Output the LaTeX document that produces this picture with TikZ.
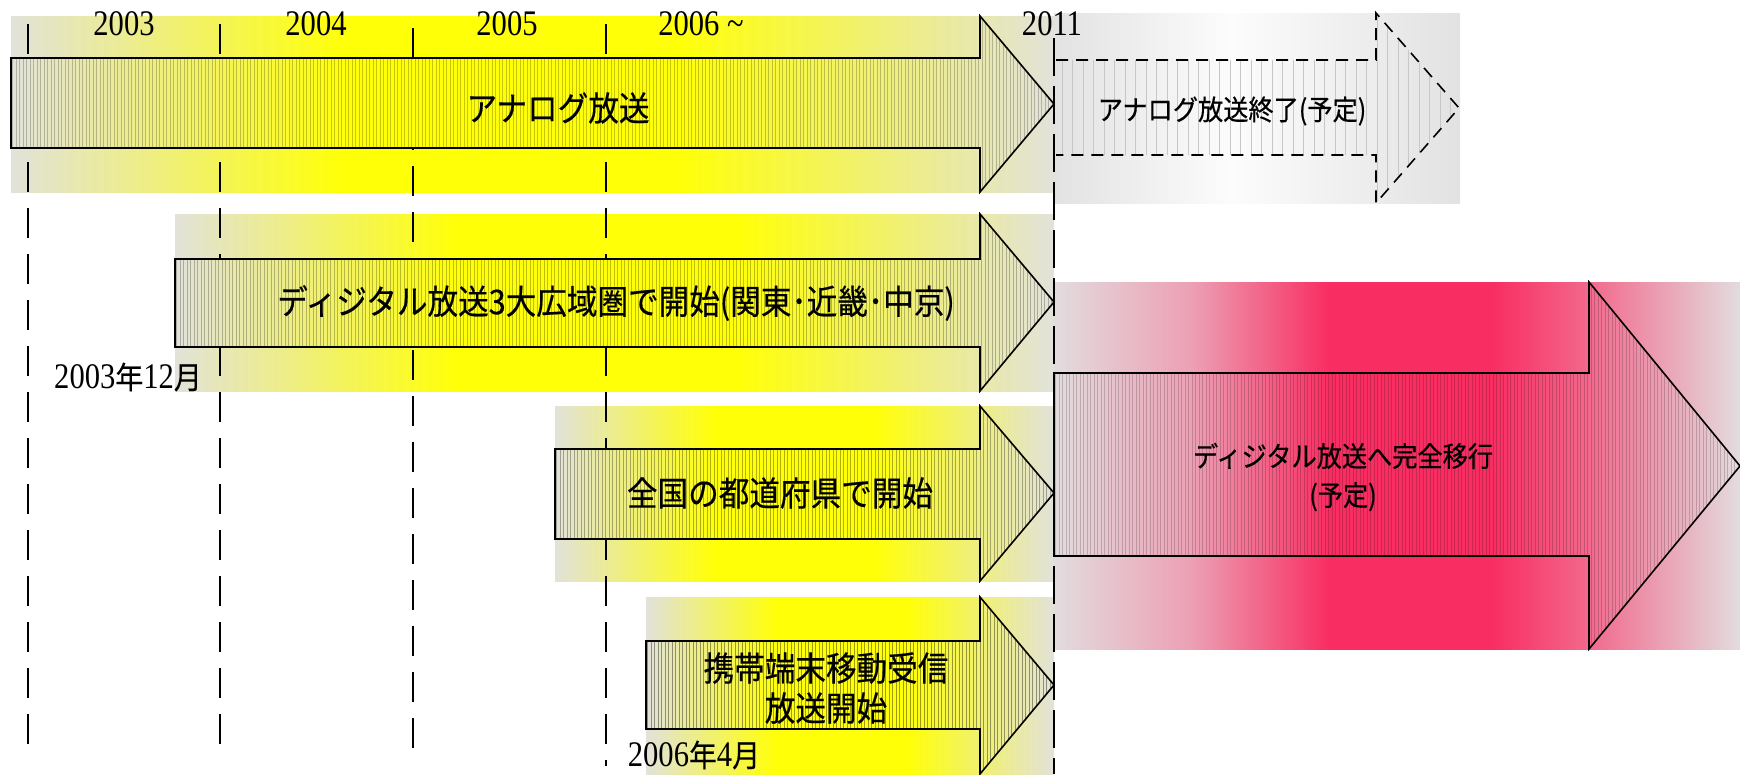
\documentclass[tikz,border=0pt]{standalone}
\usepackage{fontspec}
\setmainfont{Liberation Serif}
\newfontfamily\jp[FakeStretch=0.9,FakeBold=0.4]{Noto Sans CJK JP}
\newfontfamily\yrf[FakeStretch=0.85]{Liberation Serif}
\definecolor{bgg}{RGB}{226,226,218}
\definecolor{ylw}{RGB}{255,255,8}
\definecolor{redc}{RGB}{248,46,98}
\definecolor{rgray}{RGB}{226,220,222}
\definecolor{rmid}{RGB}{236,160,180}
\definecolor{rpink}{RGB}{242,105,140}
\definecolor{lg}{RGB}{226,226,226}
\definecolor{wh}{RGB}{252,252,252}
\pgfdeclarehorizontalshading{ysh}{100bp}{color(0bp)=(bgg); color(25bp)=(bgg); color(41bp)=(ylw); color(57bp)=(ylw); color(75bp)=(bgg); color(100bp)=(bgg)}
\pgfdeclarehorizontalshading{rsh}{100bp}{color(0bp)=(rgray); color(25bp)=(rgray); color(35bp)=(rmid); color(45bp)=(redc); color(57bp)=(redc); color(64bp)=(rpink); color(75bp)=(rgray); color(100bp)=(rgray)}
\pgfdeclarehorizontalshading{gsh}{100bp}{color(0bp)=(lg); color(25bp)=(lg); color(47bp)=(wh); color(75bp)=(lg); color(100bp)=(lg)}
% #1 shading, #2 stripe opacity, #3 left x, #4 number of stripes, #5 path
\newcommand\arw[5]{%
  \shade[shading=#1] #5;
  \begin{scope}
    \clip #5;
    \draw[line width=0.9pt,draw opacity=#2] \foreach \i in {0,...,#4} {(#3+1.5+3.5*\i,0) -- ++(0,800)};
  \end{scope}
  \draw[outl] #5;}
\begin{document}
\begin{tikzpicture}[x=1pt,y=-1pt,
  outl/.style={draw=black,line width=1.6pt,line join=miter},
  vdash/.style={draw=black,line width=1.7pt,dash pattern=on 30pt off 16pt},
  big/.style={font=\jp\fontsize{34}{40}\selectfont,inner sep=0pt,align=center},
  mid/.style={font=\jp\fontsize{28}{39}\selectfont,inner sep=0pt,align=center},
  yr/.style={font=\yrf\fontsize{36}{38}\selectfont,inner sep=0pt}]
\useasboundingbox (0,0) rectangle (1740,774);
% backgrounds
\shade[shading=ysh] (11,16) rectangle (1054,192);
\shade[shading=ysh] (175,214) rectangle (1054,391);
\shade[shading=ysh] (555,406) rectangle (1054,581);
\shade[shading=ysh] (646,597) rectangle (1054,774);
\shade[shading=rsh] (1054,282) rectangle (1740,649);
\shade[shading=gsh] (1054,13) rectangle (1460,203);
% year dashed lines
\coordinate (l1a) at (28,24);  \coordinate (l1b) at (28,756);
\coordinate (l2a) at (220,24); \coordinate (l2b) at (220,756);
\coordinate (l3a) at (413,28); \coordinate (l3b) at (413,756);
\coordinate (l4a) at (606,24); \coordinate (l4b) at (606,766);
\draw[vdash] (l1a) -- (l1b);
\draw[vdash] (l2a) -- (l2b);
\draw[vdash] (l3a) -- (l3b);
\draw[vdash] (l4a) -- (l4b);
% arrows
\arw{ysh}{0.22}{11}{298}{(11,58) -- (980,58) -- (980,16) -- (1054,104) -- (980,192) -- (980,148) -- (11,148) -- cycle}
\arw{ysh}{0.25}{175}{251}{(175,259) -- (980,259) -- (980,214) -- (1054,302) -- (980,391) -- (980,347) -- (175,347) -- cycle}
\arw{ysh}{0.3}{555}{143}{(555,449) -- (980,449) -- (980,406) -- (1054,493) -- (980,581) -- (980,539) -- (555,539) -- cycle}
\arw{ysh}{0.38}{646}{117}{(646,641) -- (980,641) -- (980,597) -- (1054,685) -- (980,774) -- (980,729) -- (646,729) -- cycle}
\arw{rsh}{0.18}{1054}{196}{(1054,373) -- (1589,373) -- (1589,282) -- (1740,466) -- (1589,649) -- (1589,556) -- (1054,556) -- cycle}
% dashed future arrow
\begin{scope}
\clip (1056,60) -- (1376,60) -- (1376,13) -- (1459,108) -- (1376,203) -- (1376,155) -- (1056,155) -- cycle;
\draw[black!22,line width=0.8pt] \foreach \i in {0,...,38} {(1062+10.5*\i,10) -- ++(0,200)};
\end{scope}
\draw[black,line width=1.6pt,dash pattern=on 12pt off 8pt] (1056,60) -- (1376,60) -- (1376,13) -- (1459,108) -- (1376,203) -- (1376,155) -- (1056,155);
% 2011 line
\coordinate (l5a) at (1054,38); \coordinate (l5b) at (1054,774);
\draw[vdash,dash pattern=on 38pt off 10pt] (l5a) -- (l5b);
% years
\node[yr] (y03) at (124,24) {2003};
\node[yr] (y04) at (316,24) {2004};
\node[yr] (y05) at (507,24) {2005};
\node[yr] (y06) at (701,24) {2006 \char"7E};
\node[yr] (y11) at (1052,24) {2011};
% texts
\node[big] (t1) at (558,108) {アナログ放送};
\node[big] (t2) at (616,303) {ディジタル放送3大広域圏で開始(関東･近畿･中京)};
\node[big] (t3) at (780,493) {全国の都道府県で開始};
\node[big] (t4) at (826,688) {携帯端末移動受信\\放送開始};
\node[mid] (t5) at (1343,477) {ディジタル放送へ完全移行\\(予定)};
\node[mid] (t6) at (1232,111) {アナログ放送終了(予定)};
\node[yr] (d1) at (128,377) {2003{\jp\fontsize{31}{36}\selectfont 年}12{\jp\fontsize{31}{36}\selectfont 月}};
\node[yr] (d2) at (694,755) {2006{\jp\fontsize{31}{36}\selectfont 年}4{\jp\fontsize{31}{36}\selectfont 月}};
\end{tikzpicture}
\end{document}
